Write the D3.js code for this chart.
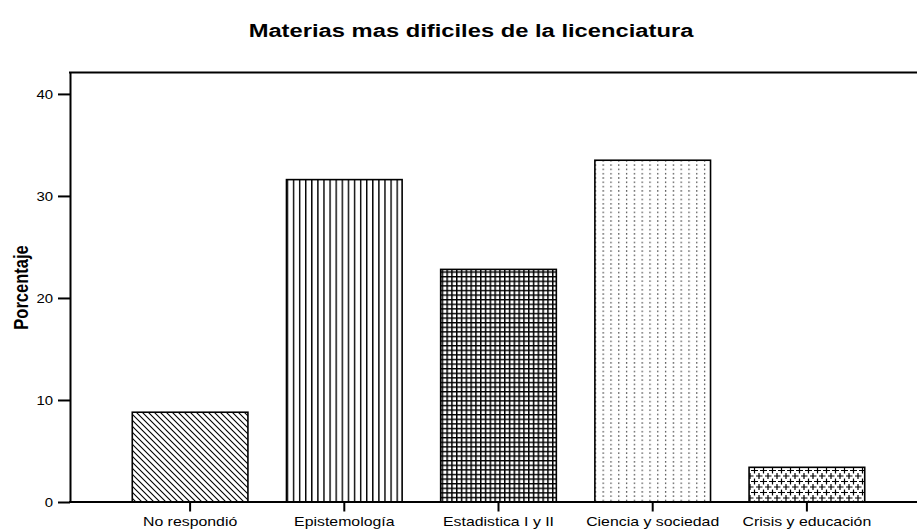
<!DOCTYPE html>
<html>
<head>
<meta charset="utf-8">
<script src="https://cdn.jsdelivr.net/npm/d3@7"></script>
<style>
  html, body { margin: 0; padding: 0; background: #fff; }
  svg { display: block; font-family: "Liberation Sans", Arial, sans-serif; }
</style>
</head>
<body>
<svg id="chart" width="917" height="529"></svg>
<script>
const categories = ["No respondió", "Epistemología", "Estadistica I y II", "Ciencia y sociedad", "Crisis y educación"];
const values = [8.8, 31.6, 22.8, 33.5, 3.4];
const yTicks = [0, 10, 20, 30, 40];
const patterns = ["diag", "vert", "grid", "dots", "plus"];
const title = "Materias mas dificiles de la licenciatura";
const yTitle = "Porcentaje";

const W = 917, H = 529;
const svg = d3.select("#chart");
const defs = svg.append("defs");

// Patterns
const pDiag = defs.append("pattern").attr("id", "diag").attr("patternUnits", "userSpaceOnUse")
  .attr("width", 6).attr("height", 6);
pDiag.append("rect").attr("width", 6).attr("height", 6).attr("fill", "#fff");
pDiag.append("path").attr("d", "M-1,-1 L7,7 M-1,5 L1,7 M5,-1 L7,1")
  .attr("stroke", "#000").attr("stroke-width", 1.1);

const pVert = defs.append("pattern").attr("id", "vert").attr("patternUnits", "userSpaceOnUse")
  .attr("width", 6.1).attr("height", 10);
pVert.append("rect").attr("width", 6.1).attr("height", 10).attr("fill", "#fff");
pVert.append("rect").attr("x", 0).attr("width", 1.4).attr("height", 10).attr("fill", "#000");

const pGrid = defs.append("pattern").attr("id", "grid").attr("patternUnits", "userSpaceOnUse")
  .attr("width", 4.8).attr("height", 4.6);
pGrid.append("rect").attr("width", 4.8).attr("height", 4.6).attr("fill", "#fff");
pGrid.append("rect").attr("x", 0).attr("width", 1.5).attr("height", 4.6).attr("fill", "#000");
pGrid.append("rect").attr("y", 0).attr("width", 4.8).attr("height", 1.4).attr("fill", "#000");

const pDots = defs.append("pattern").attr("id", "dots").attr("patternUnits", "userSpaceOnUse")
  .attr("width", 7.8).attr("height", 4.3);
pDots.append("rect").attr("width", 7.8).attr("height", 4.3).attr("fill", "#fff");
pDots.append("rect").attr("x", 2).attr("y", 1).attr("width", 1.2).attr("height", 1.4).attr("fill", "#333");

const pPlus = defs.append("pattern").attr("id", "plus").attr("patternUnits", "userSpaceOnUse")
  .attr("width", 9).attr("height", 11);
pPlus.append("rect").attr("width", 9).attr("height", 11).attr("fill", "#fff");
pPlus.append("path")
  .attr("d", "M-0.5,3 L6.5,3 M3,0 L3,6 M4,8.5 L11,8.5 M7.5,5.5 L7.5,11.5 M-5,8.5 L2,8.5 M-1.5,5.5 L-1.5,11.5 M7.5,-0.5 L7.5,0.5 M3,11 L3,12")
  .attr("stroke", "#000").attr("stroke-width", 1.2);

// Scales
const x = d3.scaleBand().domain(categories).range([113, 884]).paddingInner(0.25).paddingOuter(0.125);
const y = d3.scaleLinear().domain([0, 42.1]).range([502, 72.5]);
const frameLeft = 70, frameRight = W;

// Title
svg.append("text")
  .attr("transform", `translate(471,36.5) scale(1.32,1)`)
  .attr("text-anchor", "middle")
  .attr("font-weight", "bold").attr("font-size", 18)
  .attr("fill", "#000")
  .text(title);

// Y title
svg.append("text")
  .attr("transform", `translate(27.5,287.5) scale(1.25,1) rotate(-90)`)
  .attr("text-anchor", "middle")
  .attr("font-weight", "bold").attr("font-size", 16.5)
  .attr("fill", "#000")
  .text(yTitle);

// Bars
svg.append("g").selectAll("rect")
  .data(categories)
  .join("rect")
  .attr("x", d => x(d))
  .attr("y", (d, i) => y(values[i]))
  .attr("width", x.bandwidth())
  .attr("height", (d, i) => y(0) - y(values[i]))
  .attr("fill", (d, i) => `url(#${patterns[i]})`)
  .attr("stroke", "#000")
  .attr("stroke-width", 1.6);

// Y axis
const gy = svg.append("g").attr("transform", `translate(${frameLeft},0)`)
  .call(d3.axisLeft(y).tickValues(yTicks).tickSize(12).tickSizeOuter(0).tickFormat(d3.format("d")));
gy.select(".domain").attr("stroke", "#000").attr("stroke-width", 2);
gy.selectAll(".tick line").attr("stroke", "#000").attr("stroke-width", 2);
gy.selectAll(".tick text")
  .attr("x", 0).attr("dy", null).attr("y", 0)
  .attr("transform", "translate(-17,4.8) scale(1.15,1)")
  .attr("font-size", 13).attr("font-family", "Liberation Sans, Arial, sans-serif")
  .attr("fill", "#000");

// X axis
const gx = svg.append("g").attr("transform", `translate(0,${y(0)})`)
  .call(d3.axisBottom(x).tickSize(9.5).tickSizeOuter(0));
gx.select(".domain").remove();
gx.selectAll(".tick line").attr("stroke", "#000").attr("stroke-width", 2);
gx.selectAll(".tick text")
  .attr("y", 0).attr("dy", null)
  .attr("transform", "translate(0,23.5) scale(1.22,1)")
  .attr("font-size", 13).attr("font-family", "Liberation Sans, Arial, sans-serif")
  .attr("fill", "#000");

// Frame lines (top and bottom)
svg.append("line")
  .attr("x1", frameLeft - 1).attr("x2", frameRight)
  .attr("y1", y(0)).attr("y2", y(0))
  .attr("stroke", "#000").attr("stroke-width", 2);
svg.append("line")
  .attr("x1", frameLeft - 1).attr("x2", frameRight)
  .attr("y1", y.range()[1]).attr("y2", y.range()[1])
  .attr("stroke", "#000").attr("stroke-width", 2);
</script>
</body>
</html>
